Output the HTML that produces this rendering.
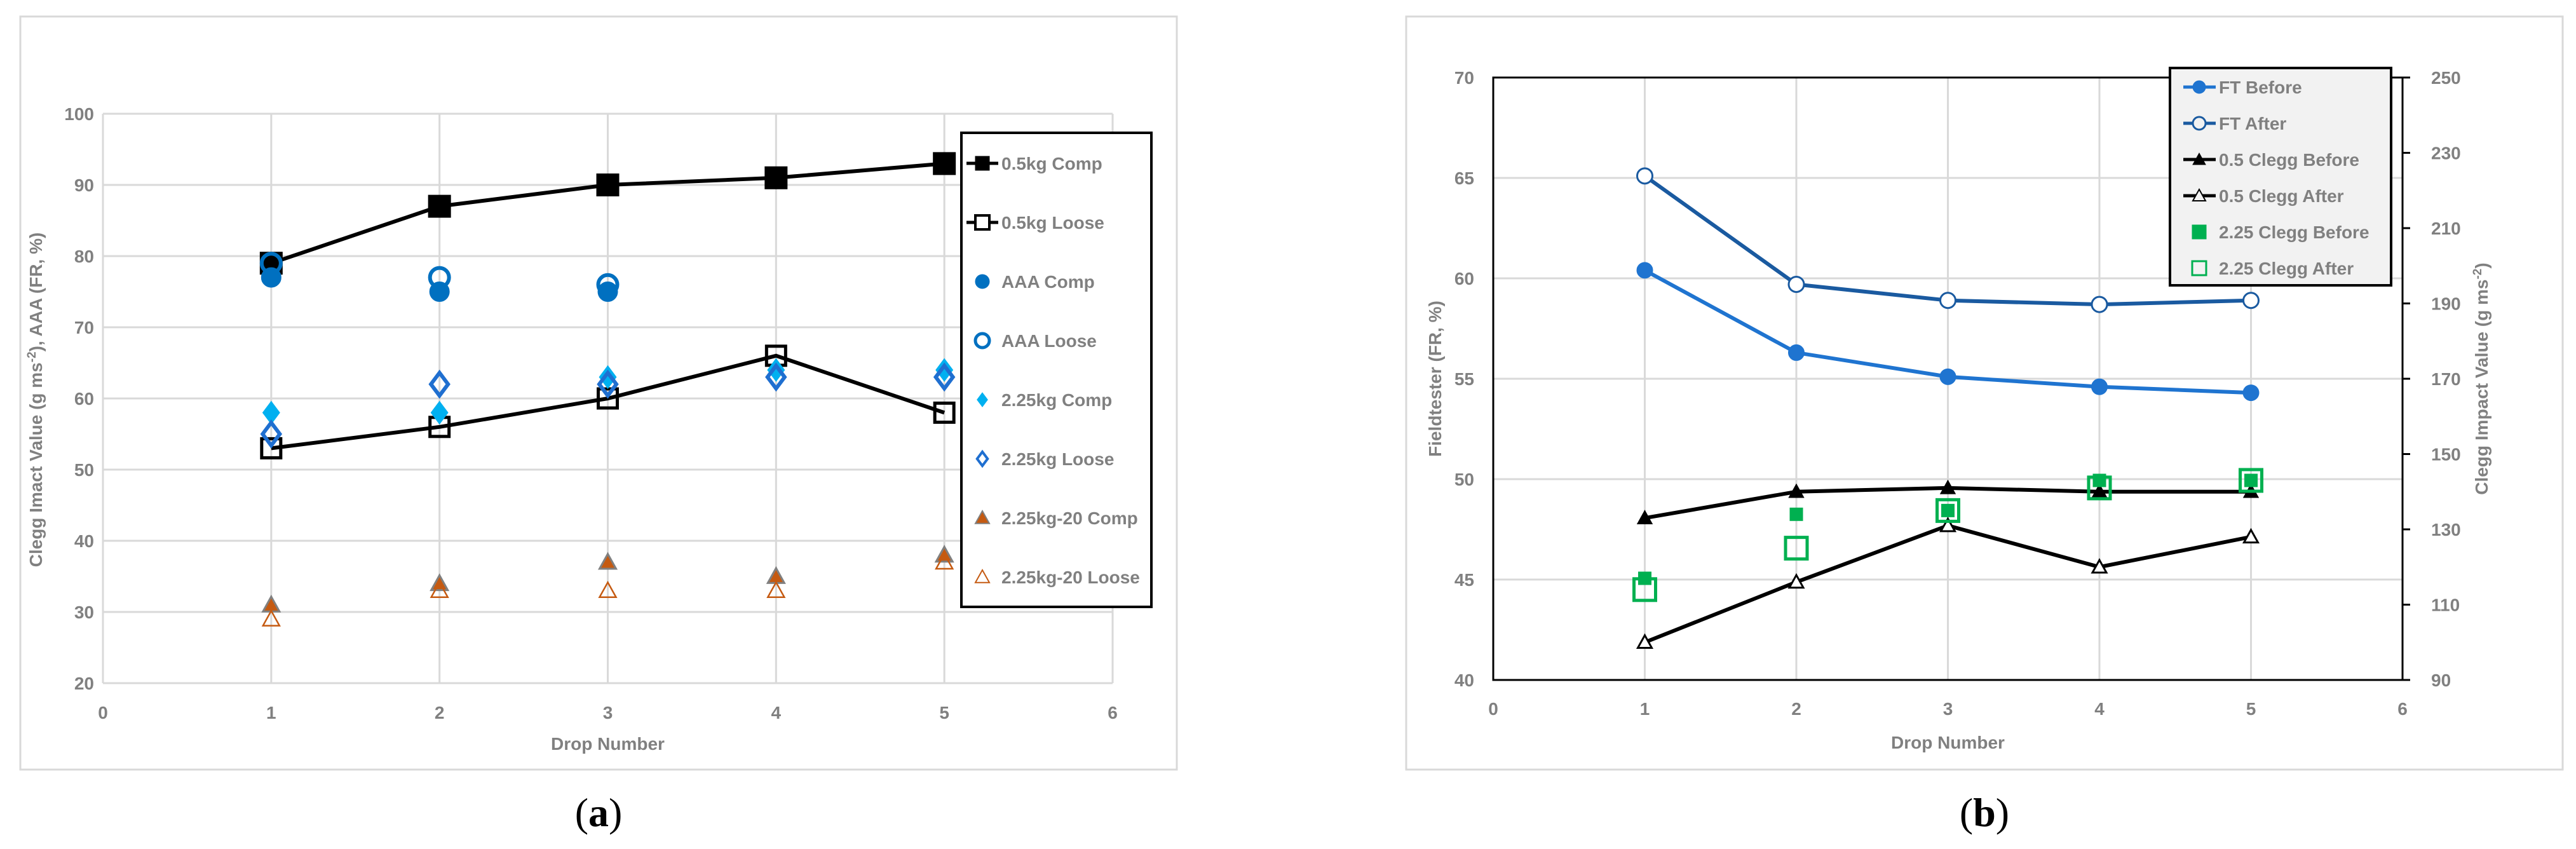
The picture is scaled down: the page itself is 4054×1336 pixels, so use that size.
<!DOCTYPE html>
<html><head><meta charset="utf-8"><style>
html,body{margin:0;padding:0;background:#fff}
svg{display:block}
text{font-family:"Liberation Sans",sans-serif;fill:#808080;font-weight:bold}
</style></head><body>
<svg id="s" width="4054" height="1336" xmlns="http://www.w3.org/2000/svg">
<rect x="32" y="26" width="1820" height="1185" fill="#fff" stroke="#d9d9d9" stroke-width="3"/>
<rect x="2213" y="26" width="1820" height="1185" fill="#fff" stroke="#d9d9d9" stroke-width="3"/>
<text x="942" y="1300" font-size="64" style="font-family:'Liberation Serif',serif;fill:#000;font-weight:normal" text-anchor="middle">(<tspan font-weight="bold">a</tspan>)</text>
<text x="3123" y="1300" font-size="64" style="font-family:'Liberation Serif',serif;fill:#000;font-weight:normal" text-anchor="middle">(<tspan font-weight="bold">b</tspan>)</text>
<g id="ga"></g><g id="gb"></g>
</svg>
<script>
// ---- Chart A data ----
const xCats = [1,2,3,4,5];
const aXTicks = [0,1,2,3,4,5,6];
const aYTicks = [20,30,40,50,60,70,80,90,100];
const a05Comp = [79,87,90,91,93];
const a05Loose = [53,56,60,66,58];
const aAAAComp = [77,75,75];
const aAAALoose = [79,77,76];
const a225Comp = [58,58,63,64,64];
const a225Loose = [55,62,62,63,63];
const a22520Comp = [31,34,37,35,38];
const a22520Loose = [29,33,33,33,37];
const aLegend = ["0.5kg Comp","0.5kg Loose","AAA Comp","AAA Loose","2.25kg Comp","2.25kg Loose","2.25kg-20 Comp","2.25kg-20 Loose"];
// ---- Chart B data ----
const bYTicks = [40,45,50,55,60,65,70];
const bY2Ticks = [90,110,130,150,170,190,210,230,250];
const ftBefore = [60.4,56.3,55.1,54.6,54.3];
const ftAfter = [65.1,59.7,58.9,58.7,58.9];
const c05Before = [133,140,141,140,140];
const c05After = [100,116,131,120,128];
const c225Before = [117,134,135,143,143];
const c225After = [114,125,135,141,143];
const bLegend = ["FT Before","FT After","0.5 Clegg Before","0.5 Clegg After","2.25 Clegg Before","2.25 Clegg After"];

const NS="http://www.w3.org/2000/svg";
function mk(p,tag,at,txt){const e=document.createElementNS(NS,tag);for(const k in at)e.setAttribute(k,at[k]);if(txt!==undefined)e.textContent=txt;p.appendChild(e);return e;}
function marker(g,type,cx,cy,s,fill,stroke,sw){
  let e;
  if(type==='sq') e=mk(g,'rect',{x:cx-s/2,y:cy-s/2,width:s,height:s,fill:fill,stroke:stroke,'stroke-width':sw});
  else if(type==='ci') e=mk(g,'circle',{cx:cx,cy:cy,r:s/2,fill:fill,stroke:stroke,'stroke-width':sw});
  else if(type==='di') e=mk(g,'polygon',{points:`${cx},${cy-s/2} ${cx+s/2*0.75},${cy} ${cx},${cy+s/2} ${cx-s/2*0.75},${cy}`,fill:fill,stroke:stroke,'stroke-width':sw});
  else e=mk(g,'polygon',{points:`${cx},${cy-s/2} ${cx+s/2},${cy+s/2*0.8} ${cx-s/2},${cy+s/2*0.8}`,fill:fill,stroke:stroke,'stroke-width':sw});
  return e;
}
function series(g,name,vals,xs,yf,type,s,fill,stroke,sw,line,lw){
  if(line){const pts=vals.map((v,i)=>xs(xCats[i])+','+yf(v)).join(' ');
    const pl=mk(g,'polyline',{points:pts,fill:'none',stroke:line,'stroke-width':lw});
    
    }
  vals.forEach((v,i)=>{const m=marker(g,type,xs(xCats[i]),yf(v),s,fill,stroke,sw);
    
    });
}
// ---- Chart A ----
(function(){
const g=document.getElementById('ga');
const X0=162,X1=1751,Y0=1075,Y1=179;
const xs=v=>X0+(v-0)/6*(X1-X0);
const ys=v=>Y0-(v-20)/80*(Y0-Y1);
aYTicks.forEach(t=>{const l=mk(g,'line',{x1:X0,x2:X1,y1:ys(t),y2:ys(t),stroke:'#d9d9d9','stroke-width':3});
  
  
  const tx=mk(g,'text',{x:X0-14,y:ys(t)+10,'font-size':28,'text-anchor':'end'},t);
  
  });
aXTicks.forEach(t=>{const l=mk(g,'line',{x1:xs(t),x2:xs(t),y1:Y1,y2:Y0,stroke:'#d9d9d9','stroke-width':3});
  
  
  const tx=mk(g,'text',{x:xs(t),y:Y0+56,'font-size':28,'text-anchor':'middle'},t);
  
  });
let t=mk(g,'text',{x:(X0+X1)/2,y:1180,'font-size':28,'text-anchor':'middle'},'Drop Number');


t=mk(g,'text',{x:0,y:0,'font-size':28,'text-anchor':'middle',transform:'translate(66,629) rotate(-90)'});
t.innerHTML='Clegg Imact Value (g ms<tspan font-size="19" dy="-10">-2</tspan><tspan dy="10">), AAA (FR, %)</tspan>';


series(g,'a-0.5kg-comp',a05Comp,xs,ys,'sq',34,'#000','#000',2,'#000',6);
series(g,'a-0.5kg-loose',a05Loose,xs,ys,'sq',30,'none','#000',5,'#000',6);
series(g,'a-aaa-comp',aAAAComp,xs,ys,'ci',30,'#0070c0','#0070c0',2);
series(g,'a-aaa-loose',aAAALoose,xs,ys,'ci',30,'none','#0070c0',6);
series(g,'a-2.25kg-comp',a225Comp,xs,ys,'di',34,'#00b0f0','#00b0f0',2);
series(g,'a-2.25kg-loose',a225Loose,xs,ys,'di',36,'none','#1f6fd0',6);
series(g,'a-2.25kg-20-comp',a22520Comp,xs,ys,'tr',26,'#c55a11','#808080',3);
series(g,'a-2.25kg-20-loose',a22520Loose,xs,ys,'tr',26,'none','#c55a11',2.5);
const lg=mk(g,'g',{});


mk(lg,'rect',{x:1513,y:209,width:299,height:746,fill:'#fff',stroke:'#000','stroke-width':4});
const types=[['sq','#000','#000',1,true],['sq','#fff','#000',4,true],['ci','#0070c0','#0070c0',1],['ci','#fff','#0070c0',5],['di','#00b0f0','#00b0f0',1],['di','#fff','#1f6fd0',4],['tr','#c55a11','#808080',2],['tr','#fff','#c55a11',2]];
aLegend.forEach((n,i)=>{const y=257+i*93;const ty=types[i];
  if(ty[4]) mk(lg,'line',{x1:1521,x2:1571,y1:y,y2:y,stroke:'#000','stroke-width':5});
  marker(lg,ty[0],1546,y,22,ty[1],ty[2],ty[3]);
  const e=mk(lg,'text',{x:1576,y:y+10,'font-size':28},n);
  
  });
})();
// ---- Chart B ----
(function(){
const g=document.getElementById('gb');
const X0=2350,X1=3781,Y0=1070,Y1=122;
const xs=v=>X0+v/6*(X1-X0);
const ys=v=>Y0-(v-40)/30*(Y0-Y1);
const y2=v=>Y0-(v-90)/160*(Y0-Y1);
bYTicks.forEach(t=>{const l=mk(g,'line',{x1:X0,x2:X1,y1:ys(t),y2:ys(t),stroke:'#d9d9d9','stroke-width':3});
  
  
  const tx=mk(g,'text',{x:X0-30,y:ys(t)+10,'font-size':28,'text-anchor':'end'},t);
  
  });
aXTicks.forEach(t=>{const l=mk(g,'line',{x1:xs(t),x2:xs(t),y1:Y1,y2:Y0,stroke:'#d9d9d9','stroke-width':3});
  
  
  const tx=mk(g,'text',{x:xs(t),y:Y0+55,'font-size':28,'text-anchor':'middle'},t);
  
  });
bY2Ticks.forEach(t=>{mk(g,'line',{x1:X1,x2:X1+12,y1:y2(t),y2:y2(t),stroke:'#000','stroke-width':3});
  const tx=mk(g,'text',{x:X1+45,y:y2(t)+10,'font-size':28},t);
  
  });
const fr=mk(g,'rect',{x:X0,y:Y1,width:X1-X0,height:Y0-Y1,fill:'none',stroke:'#000','stroke-width':3});


let t=mk(g,'text',{x:(X0+X1)/2,y:1178,'font-size':28,'text-anchor':'middle'},'Drop Number');


t=mk(g,'text',{x:0,y:0,'font-size':28,'text-anchor':'middle',transform:'translate(2268,596) rotate(-90)'},'Fieldtester (FR, %)');


t=mk(g,'text',{x:0,y:0,'font-size':28,'text-anchor':'middle',transform:'translate(3915,596) rotate(-90)'});
t.innerHTML='Clegg Impact Value (g ms<tspan font-size="19" dy="-10">-2</tspan><tspan dy="10">)</tspan>';


series(g,'b-ft-after',ftAfter,xs,ys,'ci',24,'#fff','#1a5aa0',3,'#1a5aa0',6);
series(g,'b-ft-before',ftBefore,xs,ys,'ci',24,'#1f74d0','#1f74d0',2,'#1f74d0',6);
series(g,'b-c05-before',c05Before,xs,y2,'tr',22,'#000','#000',2,'#000',6);
series(g,'b-c05-after',c05After,xs,y2,'tr',22,'#fff','#000',3,'#000',6);
series(g,'b-c225-after',c225After,xs,y2,'sq',34,'none','#00b050',5);
series(g,'b-c225-before',c225Before,xs,y2,'sq',20,'#00b050','#00b050',1);
const lg=mk(g,'g',{});


mk(lg,'rect',{x:3415,y:107,width:348,height:342,fill:'#f2f2f2',stroke:'#000','stroke-width':4});
const types=[['ci','#1f74d0','#1f74d0',1,'#1f74d0'],['ci','#f2f2f2','#1a5aa0',3,'#1a5aa0'],['tr','#000','#000',1,'#000'],['tr','#f2f2f2','#000',2,'#000'],['sq','#00b050','#00b050',1],['sq','#f2f2f2','#00b050',3]];
bLegend.forEach((n,i)=>{const y=137+i*57;const ty=types[i];
  if(ty[4]) mk(lg,'line',{x1:3436,x2:3487,y1:y,y2:y,stroke:ty[4],'stroke-width':5});
  marker(lg,ty[0],3461,y,ty[0]==='sq'?22:20,ty[1],ty[2],ty[3]);
  const e=mk(lg,'text',{x:3492,y:y+10,'font-size':28},n);
  
  });
})();
</script>
</body></html>
